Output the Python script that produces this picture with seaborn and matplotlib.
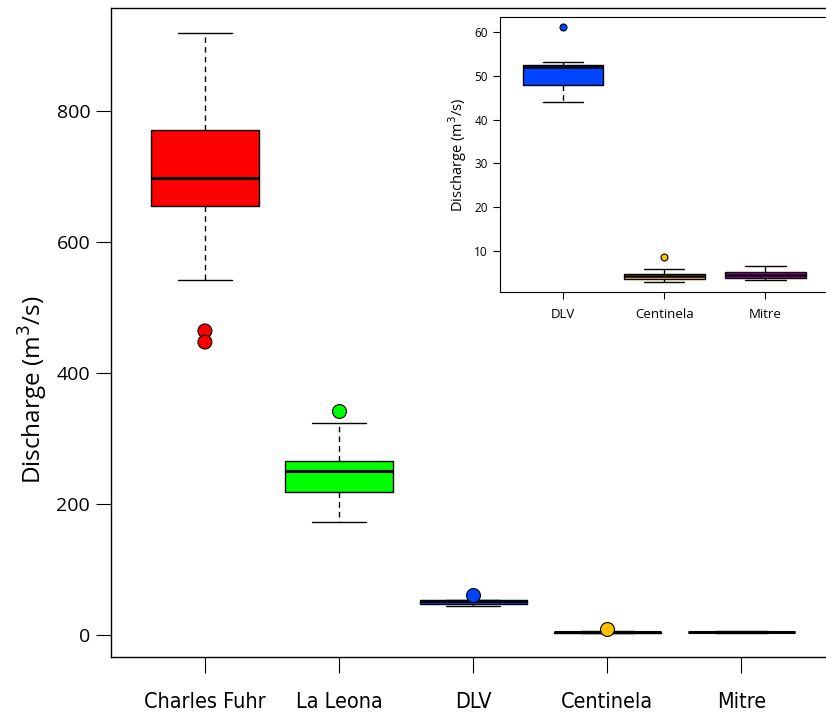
import matplotlib
matplotlib.use("Agg")
import matplotlib.pyplot as plt
import seaborn as sns
import pandas as pd

sns.set_style("ticks", {"axes.edgecolor": "black", "text.color": "black",
                        "axes.labelcolor": "black", "xtick.color": "black",
                        "ytick.color": "black"})
plt.rcParams["font.family"] = ["Open Sans", "DejaVu Sans"]

# Five-number summaries of discharge (m3/s) per gauging station
sites = ["Charles Fuhr", "La Leona", "DLV", "Centinela", "Mitre"]
whisker_low = [542, 172, 44.1, 3.0, 3.3]
q1 = [655, 218, 48.0, 3.6, 3.8]
median = [698, 250, 52.1, 4.2, 4.45]
q3 = [771, 266, 52.6, 4.75, 5.1]
whisker_high = [918, 324, 53.2, 5.9, 6.5]
colors = ["#FF0000", "#00FF00", "#0044FF", "#FFC000", "#A800A8"]

# Outlying years
outlier_site = ["Charles Fuhr", "Charles Fuhr", "La Leona", "DLV", "Centinela"]
outlier_value = [464, 447, 342, 61.1, 8.6]

inset_sites = ["DLV", "Centinela", "Mitre"]

rows = []
for i, s in enumerate(sites):
    for v in (whisker_low[i], q1[i], median[i], q3[i], whisker_high[i]):
        rows.append({"site": s, "discharge": v})
summary = pd.DataFrame(rows)
outliers = pd.DataFrame({"site": outlier_site, "discharge": outlier_value})
palette = dict(zip(sites, colors))


def draw(ax, order, lw_med, marker_size):
    d = summary[summary.site.isin(order)]
    sns.boxplot(
        data=d, x="site", y="discharge", hue="site", order=order,
        hue_order=order, palette=palette, legend=False, width=0.8,
        whis=1.5, showfliers=False, saturation=1, ax=ax,
        boxprops=dict(edgecolor="black", linewidth=1.0),
        medianprops=dict(color="black", linewidth=lw_med),
        whiskerprops=dict(color="black", linewidth=1.0, linestyle=(0, (4, 3))),
        capprops=dict(color="black", linewidth=1.0),
    )
    o = outliers[outliers.site.isin(order)]
    sns.stripplot(
        data=o, x="site", y="discharge", hue="site", order=order,
        hue_order=order, palette=palette, legend=False, jitter=False,
        size=marker_size, edgecolor="black", linewidth=0.8, ax=ax, zorder=5,
    )


fig = plt.figure(figsize=(8.26, 7.18), dpi=100)
ax = fig.add_axes([0.1344, 0.085, 0.8656, 0.904])
draw(ax, sites, 2.2, 10)
ax.set_xlim(-0.70, 4.63)
ax.set_ylim(-33.6, 957)
ax.set_yticks([0, 200, 400, 600, 800])
ax.set_xlabel("")
ax.set_ylabel("Discharge (m$^3$/s)", fontsize=17.5)
ax.yaxis.set_label_coords(-0.086, 0.411)
ax.tick_params(axis="y", labelsize=14, length=11, width=0.8, pad=4)
ax.tick_params(axis="x", labelsize=17, length=11.5, width=0.8, pad=14)
for lab in ax.get_xticklabels():
    lab.set_family(["DejaVu Sans"])
    lab.set_fontstretch("condensed")
    lab.set_fontsize(15.5)
ax.spines["right"].set_visible(False)
for sp in ax.spines.values():
    sp.set_linewidth(1.0)

ins = fig.add_axes([0.6057, 0.593, 0.3943, 0.383])
draw(ins, inset_sites, 1.8, 5)
ins.set_xlim(-0.62, 2.6)
ins.set_ylim(0.57, 63.4)
ins.set_yticks([10, 20, 30, 40, 50, 60])
ins.set_xlabel("")
ins.set_ylabel("Discharge (m$^3$/s)", fontsize=10.5, labelpad=4)
ins.tick_params(axis="y", labelsize=8.5, length=5, width=0.8, pad=4)
ins.tick_params(axis="x", labelsize=9.5, length=5, width=0.8, pad=6)
ins.spines["right"].set_visible(False)

fig.savefig("out.png", dpi=100)
